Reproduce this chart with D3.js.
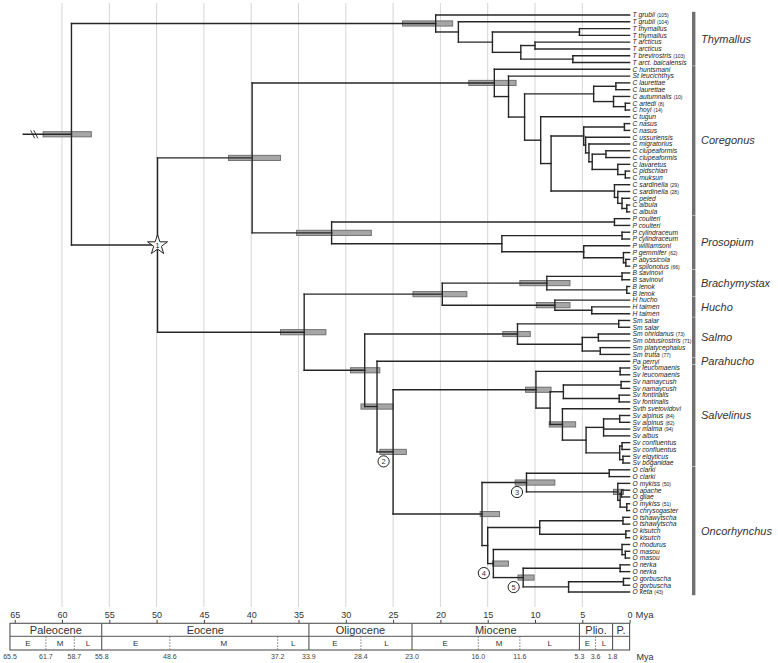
<!DOCTYPE html>
<html><head><meta charset="utf-8">
<script src="https://cdn.jsdelivr.net/npm/d3@7"></script>
<style>body{margin:0;background:#fff} text{font-family:"Liberation Sans",Arial,sans-serif}</style>
</head><body><svg id="c" width="778" height="663"></svg>
<script>
// internal nodes: [id, parent, age (Mya)]
const nodes = [
["root",null,59.0],["thy","root",20.5],["thyA","thy",18.1],["thyB","thyA",14.5],["thyC","thyB",5.3],["thyD","thyB",11.5],["thyE","thyD",10.0],["thyF","thyD",6.0],
["star","root",49.9],["cor0","star",39.9],["cor","cor0",14.3],["corG","cor",12.8],["corH","corG",11.1],["corI","corH",3.8],["laur","corI",1.45],["autu","corI",1.7],["arho","autu",0.45],
["corJ","corH",9.4],["corK","corJ",8.3],["corL","corK",4.85],["nasus","corL",0.55],["corM","corL",4.65],["corN","corM",4.3],["corO","corN",3.95],["clup","corO",2.5],["lava","corO",1.25],["pimu","lava",0.45],
["corP","corK",1.6],["corQ","corP",1.25],["corR","corQ",0.8],["corS","corR",0.3],
["pro","cor0",31.5],["coul","pro",1.6],["proT","pro",13.5],["cyl","proT",0.8],["proU","proT",4.85],["proV","proU",0.65],["proW","proV",0.4],
["sal","star",34.4],["bh","sal",19.8],["bra","bh",8.75],["sav","bra",0.8],["len","bra",0.3],["huc","bh",7.9],["tai","huc",4.0],
["salY","sal",28.0],["salmo","salY",11.85],["salar","salmo",1.15],["salmo2","salmo",5.0],["ohob","salmo2",3.3],["pltr","salmo2",3.1],
["salZ","salY",26.7],["aa","salZ",25.0],["sv","aa",9.9],["leuc","sv",1.0],["svBB","sv",8.4],["svCC","svBB",7.0],["nama","svCC",0.9],["font","svCC",1.1],
["svDD","svBB",7.1],["svEE","svDD",4.6],["alp","svEE",2.75],["alpP","alp",1.05],["conf0","svEE",1.05],["confP","conf0",0.8],["elbo","conf0",0.7],
["onc","aa",15.6],["oncFF","onc",10.9],["clarki","oncFF",2.15],["oncGG","oncFF",1.25],["oncII","oncGG",1.0],["apgi","oncII",0.85],["mych","oncII",0.3],
["oncJJ","onc",15.0],["oncKK","oncJJ",9.5],["tsha","oncKK",0.7],["kisu","oncKK",0.4],["oncLL","oncJJ",14.4],["oncMM","oncLL",0.8],["maso","oncMM",0.45],
["oncNN","oncLL",11.25],["nerk","oncNN",1.0],["oncOO","oncNN",6.45],["gorb","oncOO",0.65]
];
// tips in top-to-bottom order: [label, parent]
const tips = [
["T grubii (105)","thy"],["T grubii (104)","thyA"],["T thymallus","thyC"],["T thymallus","thyC"],["T arcticus","thyE"],["T arcticus","thyE"],["T brevirostris (103)","thyF"],["T arct. baicalensis","thyF"],
["C huntsmani","cor"],["St leucichthys","corG"],["C laurettae","laur"],["C laurettae","laur"],["C autumnalis (10)","autu"],["C artedi (8)","arho"],["C hoyi (14)","arho"],
["C tugun","corJ"],["C nasus","nasus"],["C nasus","nasus"],["C ussuriensis","corM"],["C migratorius","corN"],["C clupeaformis","clup"],["C clupeaformis","clup"],
["C lavaretus","lava"],["C pidschian","pimu"],["C muksun","pimu"],["C sardinella (29)","corP"],["C sardinella (28)","corQ"],["C peled","corR"],["C albula","corS"],["C albula","corS"],
["P coulteri","coul"],["P coulteri","coul"],["P cylindraceum","cyl"],["P cylindraceum","cyl"],["P williamsoni","proU"],["P gemmifer (62)","proV"],["P abyssicola","proW"],["P spilonotus (66)","proW"],
["B savinovi","sav"],["B savinovi","sav"],["B lenok","len"],["B lenok","len"],["H hucho","huc"],["H taimen","tai"],["H taimen","tai"],
["Sm salar","salar"],["Sm salar","salar"],["Sm ohridanus (73)","ohob"],["Sm obtusirostris (71)","ohob"],["Sm platycephalus","pltr"],["Sm trutta (77)","pltr"],
["Pa perryi","salZ"],
["Sv leucomaenis","leuc"],["Sv leucomaenis","leuc"],["Sv namaycush","nama"],["Sv namaycush","nama"],["Sv fontinalis","font"],["Sv fontinalis","font"],["Svth svetovidovi","svDD"],
["Sv alpinus (84)","alpP"],["Sv alpinus (82)","alpP"],["Sv malma (94)","alp"],["Sv albus","alp"],["Sv confluentus","confP"],["Sv confluentus","confP"],["Sv elgyticus","elbo"],["Sv boganidae","elbo"],
["O clarki","clarki"],["O clarki","clarki"],["O mykiss (50)","oncGG"],["O apache","apgi"],["O gilae","apgi"],["O mykiss (51)","mych"],["O chrysogaster","mych"],
["O tshawytscha","tsha"],["O tshawytscha","tsha"],["O kisutch","kisu"],["O kisutch","kisu"],["O rhodurus","oncMM"],["O masou","maso"],["O masou","maso"],
["O nerka","nerk"],["O nerka","nerk"],["O gorbuscha","gorb"],["O gorbuscha","gorb"],["O keta (43)","oncOO"]
];
// 95% HPD bars: [node, older, younger]
const hpd = [
["root",62.0,56.9],["thy",24.0,18.7],["cor0",42.4,36.9],["cor",17.0,12.0],["pro",35.2,27.3],["sal",36.9,32.1],["bh",22.9,17.2],
["bra",11.6,6.3],["huc",9.85,6.3],["salmo",13.4,10.5],["salY",29.5,26.4],["salZ",28.4,25.0],["aa",26.4,23.6],["sv",11.0,8.3],
["svDD",8.5,5.7],["onc",15.8,13.75],["oncFF",12.1,7.9],["oncGG",1.7,0.65],["oncLL",14.5,12.8],["oncNN",11.8,10.1]
];
const calibStar = [["star","1"]];
const calibCircles = [["aa","2"],["oncFF","3"],["oncLL","4"],["oncNN","5"]];
const clades = [["Thymallus",0,7],["Coregonus",8,29],["Prosopium",30,37],["Brachymystax",38,41],["Hucho",42,44],["Salmo",45,50],["Parahucho",51,51],["Salvelinus",52,66],["Oncorhynchus",67,85]];
const tickAges = [65,60,55,50,45,40,35,30,25,20,15,10,5,0];
const gridAges = [60,55,50,45,40,35,30,25,20,15,10,5];
const stemAge = 64.1;
const epochNames = ["Paleocene","Eocene","Oligocene","Miocene","Plio.","P."];
const epochStart = [65.5,55.8,33.9,23.0,5.3,1.8];
const epochEnd = [55.8,33.9,23.0,5.3,1.8,0];
const stageNames = ["E","M","L","E","M","L","E","L","E","M","L","E","L"];
const stageStart = [65.5,61.7,58.7,55.8,48.6,37.2,33.9,28.4,23.0,16.0,11.6,5.3,3.6];
const stageEnd = [61.7,58.7,55.8,48.6,37.2,33.9,28.4,23.0,16.0,11.6,5.3,3.6,1.8];
const boundaryLabels = ["65.5","61.7","58.7","55.8","48.6","37.2","33.9","28.4","23.0","16.0","11.6","5.3","3.6","1.8"];

const svg = d3.select("#c");
const x = d3.scaleLinear().domain([65,0]).range([14.7,629.6]);
const y = d3.scaleLinear().domain([0,tips.length-1]).range([15,592]);

const tbl = nodes.map(([id,parent,age])=>({id,parent,age,tip:false}))
  .concat(tips.map(([label,parent],i)=>({id:"t"+i,parent,age:0,tip:true,label,idx:i})));
const root = d3.stratify().id(d=>d.id).parentId(d=>d.parent)(tbl);
root.eachAfter(n=>{
  if(n.data.tip){n.y=y(n.data.idx);n.y0=n.y;n.y1=n.y;}
  else{const ys=n.children.map(c=>c.y);n.y0=d3.min(ys);n.y1=d3.max(ys);n.y=(n.y0+n.y1)/2;}
});
const byId=new Map();root.each(n=>byId.set(n.id,n));

// gridlines
svg.append("g").selectAll("line").data(gridAges).join("line")
 .attr("x1",d=>x(d)).attr("x2",d=>x(d)).attr("y1",3).attr("y2",607)
 .attr("stroke","#d6d6d6").attr("stroke-width",1);

// HPD bars
svg.append("g").selectAll("rect").data(hpd).join("rect")
 .attr("x",d=>x(d[1])).attr("width",d=>x(d[2])-x(d[1]))
 .attr("y",d=>byId.get(d[0]).y-2.6).attr("height",5.2)
 .attr("fill","#a6a6a6").attr("stroke","#6a6a6a").attr("stroke-width",0.9);

// branches
const br=svg.append("g").attr("stroke","#262626").attr("stroke-width",1.4).attr("fill","none").attr("stroke-linecap","square");
root.descendants().filter(n=>n.parent).forEach(n=>{
  br.append("path").attr("d",`M${x(n.parent.data.age)},${n.y}H${x(n.data.age)}`);
});
root.descendants().filter(n=>n.children).forEach(n=>{
  br.append("path").attr("d",`M${x(n.data.age)},${n.y0}V${n.y1}`);
});
// root stem with break
br.append("path").attr("d",`M${x(stemAge)},${root.y}H${x(root.data.age)}`);
const bx=x(stemAge)+11;
svg.append("g").attr("stroke","#222").attr("stroke-width",0.9).selectAll("line").data([-1.6,1.6]).join("line")
 .attr("x1",d=>bx+d-2).attr("x2",d=>bx+d+2).attr("y1",root.y-4).attr("y2",root.y+4);

// star
svgStar=svg.append("g").selectAll("g").data(calibStar).join("g")
 .attr("transform",d=>{const n=byId.get(d[0]);return `translate(${x(n.data.age)},${n.y})`;});
svgStar.append("path").attr("d",d3.symbol(d3.symbolStar,124)()).attr("fill","#fff").attr("stroke","#222").attr("stroke-width",1);
svgStar.append("text").attr("text-anchor","middle").attr("y",3.2).attr("font-size",8).attr("fill","#333").text(d=>d[1]);
// circles
const cg=svg.append("g").selectAll("g").data(calibCircles).join("g")
 .attr("transform",d=>{const n=byId.get(d[0]);return `translate(${x(n.data.age)-9.5},${n.y+9.5})`;});
cg.append("circle").attr("r",5.6).attr("fill","#fff").attr("stroke","#222").attr("stroke-width",1);
cg.append("text").attr("text-anchor","middle").attr("y",2.6).attr("font-size",7.5).attr("fill","#333").text(d=>d[1]);

// tip labels
const tl=svg.append("g").selectAll("text").data(root.leaves()).join("text")
 .attr("x",x(0)+3).attr("y",d=>d.y).attr("dy","0.35em").attr("font-size",6.7).attr("fill","#222");
tl.each(function(d){
  const m=d.data.label.match(/^(.*?)\s*(\(\d+\))?$/);
  const t=d3.select(this);
  t.append("tspan").attr("font-style","italic").text(m[1]);
  if(m[2]) t.append("tspan").attr("font-size",5).attr("dx",2).text(m[2]);
});

// clade bars and names
const cl=svg.append("g").selectAll("g").data(clades).join("g");
cl.append("rect").attr("x",692).attr("width",3.4)
 .attr("y",d=>y(d[1])-3.2).attr("height",d=>y(d[2])-y(d[1])+6.4).attr("fill","#707070");
cl.append("text").attr("x",701).attr("y",d=>(y(d[1])+y(d[2]))/2).attr("dy","0.35em")
 .attr("font-size",11).attr("font-style","italic").attr("fill","#333").text(d=>d[0]);

// time axis
const boxTop=623.3, boxMid=636.3, boxBot=650;
const ax=svg.append("g").attr("transform",`translate(0,${boxTop})`)
 .call(d3.axisTop(x).tickValues(tickAges).tickSize(3.5).tickSizeOuter(0).tickPadding(2));
ax.select(".domain").remove();
ax.selectAll("line").attr("stroke","#444");
ax.selectAll("text").attr("font-size",9).attr("fill","#333").attr("font-family","Liberation Sans, Arial, sans-serif");
svg.append("text").attr("x",x(0)+6).attr("y",boxTop-5.5).attr("font-size",9.5).attr("fill","#333").text("Mya");

const tg=svg.append("g");
tg.append("rect").attr("x",x(65.5)).attr("y",boxTop).attr("width",x(0)-x(65.5)).attr("height",boxBot-boxTop)
 .attr("fill","none").attr("stroke","#555").attr("stroke-width",1.1);
tg.append("line").attr("x1",x(65.5)).attr("x2",x(0)).attr("y1",boxMid).attr("y2",boxMid).attr("stroke","#555").attr("stroke-width",1);
epochNames.forEach((nm,i)=>{
  if(i>0) tg.append("line").attr("x1",x(epochStart[i])).attr("x2",x(epochStart[i])).attr("y1",boxTop).attr("y2",boxBot).attr("stroke","#555").attr("stroke-width",1.1);
  tg.append("text").attr("x",(x(epochStart[i])+x(epochEnd[i]))/2).attr("y",(boxTop+boxMid)/2).attr("dy","0.36em")
   .attr("text-anchor","middle").attr("font-size",11).attr("fill","#333").text(nm);
});
stageNames.forEach((nm,i)=>{
  if(!epochStart.includes(stageStart[i])) tg.append("line").attr("x1",x(stageStart[i])).attr("x2",x(stageStart[i])).attr("y1",boxMid).attr("y2",boxBot)
    .attr("stroke","#666").attr("stroke-width",0.9).attr("stroke-dasharray","1.5,1.5");
  tg.append("text").attr("x",(x(stageStart[i])+x(stageEnd[i]))/2).attr("y",(boxMid+boxBot)/2).attr("dy","0.36em")
   .attr("text-anchor","middle").attr("font-size",8).attr("fill","#333").text(nm);
});
tg.selectAll(".bl").data(boundaryLabels).join("text").attr("class","bl")
 .attr("x",d=>x(+d)).attr("y",boxBot+9).attr("text-anchor","middle").attr("font-size",7).attr("fill","#444").text(d=>d);
svg.append("text").attr("x",x(0)+7).attr("y",boxBot+9.5).attr("font-size",9).attr("fill","#333").text("Mya");
</script></body></html>
